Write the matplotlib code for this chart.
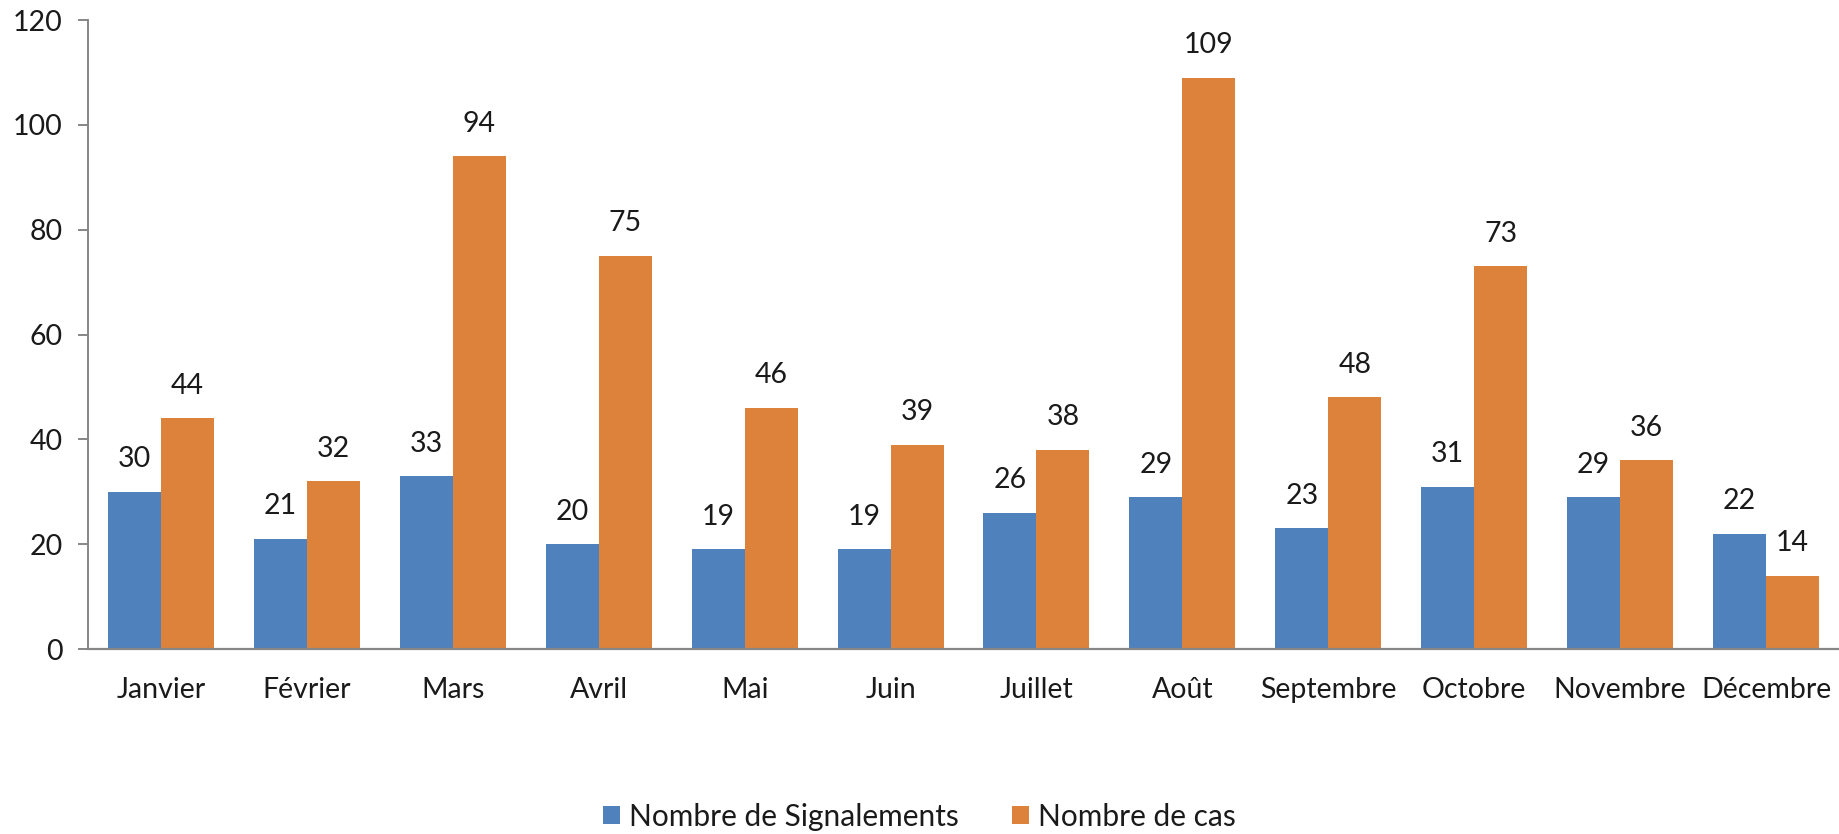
import matplotlib
matplotlib.use("Agg")
import matplotlib.pyplot as plt
import numpy as np

months = ["Janvier", "Février", "Mars", "Avril", "Mai", "Juin", "Juillet",
          "Août", "Septembre", "Octobre", "Novembre", "Décembre"]
signalements = [30, 21, 33, 20, 19, 19, 26, 29, 23, 31, 29, 22]
cas = [44, 32, 94, 75, 46, 39, 38, 109, 48, 73, 36, 14]
series_names = ["Nombre de Signalements", "Nombre de cas"]
yticks = [0, 20, 40, 60, 80, 100, 120]

blue = "#4F81BD"
orange = "#DC823A"
grey = "#868686"
fs = 20.5

plt.rcParams['font.family'] = ['Lato', 'DejaVu Sans']

fig = plt.figure(figsize=(18.39, 8.34), dpi=100)
ax = fig.add_axes([88/1839, 1-649/834, 1-88/1839, (649-20)/834])

x = np.arange(len(months))
w = 53/146
b1 = ax.bar(x - w/2, signalements, w, color=blue, label=series_names[0], zorder=3)
b2 = ax.bar(x + w/2, cas, w, color=orange, label=series_names[1], zorder=3)

for bars in (b1, b2):
    for r in bars:
        ax.annotate(f"{int(r.get_height())}", (r.get_x() + r.get_width()/2, r.get_height()),
                    xytext=(0, 14), textcoords="offset points", ha="center", va="bottom",
                    fontsize=fs, color="#1a1a1a")

ax.set_xlim(-0.5, len(months) - 0.5)
ax.set_ylim(0, 120)
ax.set_yticks(yticks)
ax.set_xticks(x)
ax.set_xticklabels(months)
ax.tick_params(axis="x", length=0, pad=20, labelsize=fs, labelcolor="#1a1a1a")
ax.tick_params(axis="y", length=7.2, width=1.4, color=grey, pad=11, labelsize=fs, labelcolor="#1a1a1a")

for s in ("top", "right"):
    ax.spines[s].set_visible(False)
ax.spines["left"].set_color(grey)
ax.spines["left"].set_linewidth(1.4)
ax.spines["bottom"].set_color(grey)
ax.spines["bottom"].set_linewidth(1.6)
ax.spines["bottom"].set_zorder(4)

leg = fig.legend(handles=[b1, b2], labels=series_names, loc="center", bbox_to_anchor=(0.5, 1-817/834),
                 ncol=2, frameon=False, fontsize=21.5, handlelength=0.55, handleheight=0.55,
                 handletextpad=0.3, columnspacing=1.8)
for t in leg.get_texts():
    t.set_color("#1a1a1a")

fig.savefig("out.png", dpi=100)
